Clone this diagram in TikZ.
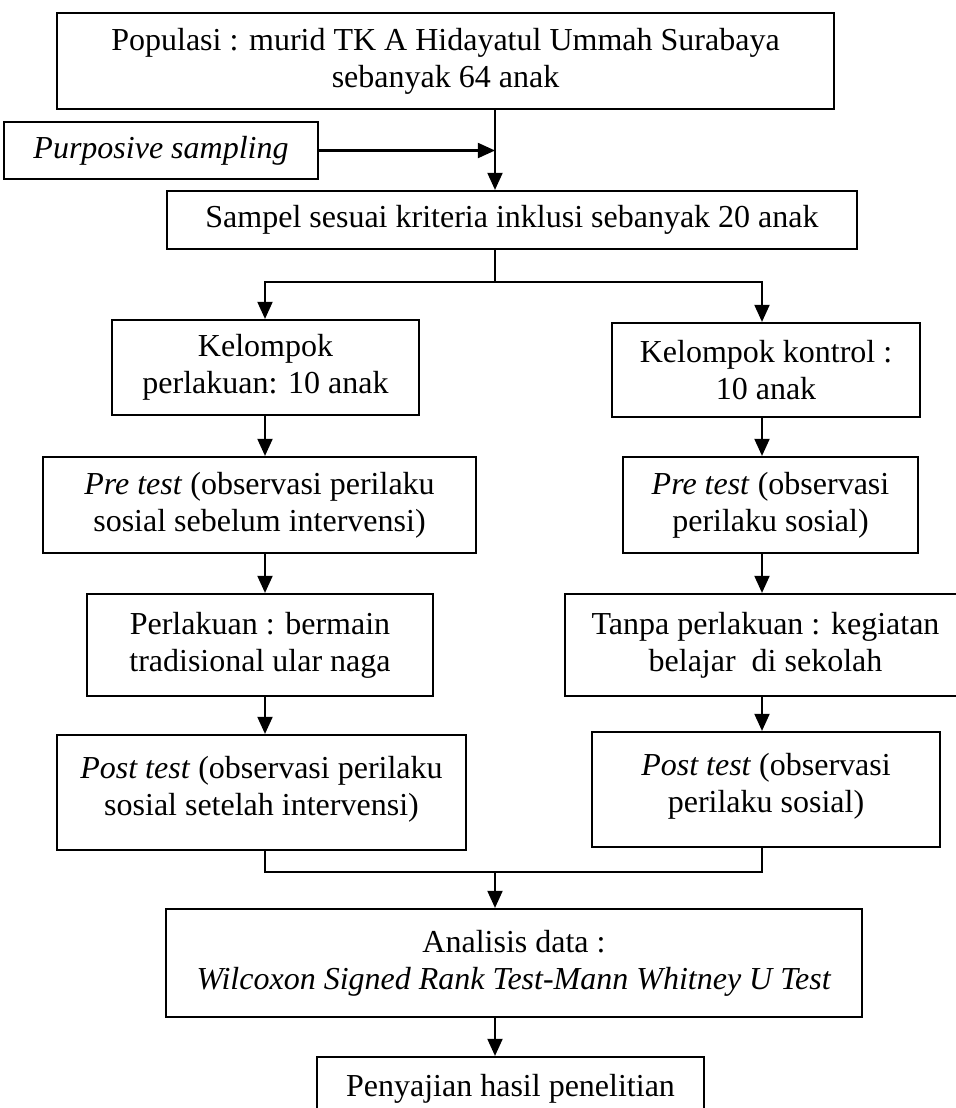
\documentclass[tikz,border=0pt]{standalone}
\usepackage{fontspec}
\setmainfont{Liberation Serif}
\usepackage{tikz}
\usetikzlibrary{arrows.meta,calc}

\begin{document}
\begin{tikzpicture}[x=0.375pt,y=-0.375pt,
  kotak/.style={draw,line width=0.8pt,inner sep=0pt,align=center,
    font=\fontsize{12pt}{13.8pt}\selectfont},
  panah/.style={line width=0.8pt,-{Triangle[length=6.4pt,width=5.6pt]}},
  garis/.style={line width=0.8pt}]
\useasboundingbox (0,0) rectangle (956,1108);
\coordinate (sumbu) at (495,0);
\coordinate (colL) at (265,0);
\coordinate (colR) at (762,0);
\coordinate (cabang) at (495,282);
\coordinate (gabung) at (495,872);

\node[kotak,minimum width=777*0.375pt,minimum height=96*0.375pt] (pop) at (445.5,61)
  {Populasi : murid TK A Hidayatul Ummah Surabaya\\ sebanyak 64 anak};
\node[kotak,minimum width=314*0.375pt,minimum height=57*0.375pt] (purp) at (161,150.5)
  {\textit{Purposive sampling}};
\node[kotak,minimum width=690*0.375pt,minimum height=58*0.375pt] (sampel) at (512,220)
  {Sampel sesuai kriteria inklusi sebanyak 20 anak};

\node[kotak,minimum width=307*0.375pt,minimum height=95*0.375pt] (kelP) at (265.5,367.5)
  {Kelompok\\ perlakuan: 10 anak};
\node[kotak,minimum width=308*0.375pt,minimum height=94*0.375pt] (kelK) at (766,370)
  {Kelompok kontrol :\\ 10 anak};
\node[kotak,minimum width=433*0.375pt,minimum height=96*0.375pt] (preP) at (259.5,505)
  {\textit{Pre test} (observasi perilaku\\ sosial sebelum intervensi)};
\node[kotak,minimum width=295*0.375pt,minimum height=96*0.375pt] (preK) at (770.5,505)
  {\textit{Pre test} (observasi\\ perilaku sosial)};
\node[kotak,minimum width=346*0.375pt,minimum height=102*0.375pt] (perlP) at (260,645)
  {Perlakuan : bermain\\ tradisional ular naga};
\node[kotak,minimum width=401*0.375pt,minimum height=102*0.375pt] (perlK) at (765.5,645)
  {Tanpa perlakuan : kegiatan\\ belajar\ \ di sekolah};
\node[kotak,minimum width=409*0.375pt,minimum height=115*0.375pt] (postP) at (261.5,792.5)
  {\textit{Post test} (observasi perilaku\\ sosial setelah intervensi)\rule[-5pt]{0pt}{0pt}};
\node[kotak,minimum width=348*0.375pt,minimum height=115*0.375pt] (postK) at (766,789.5)
  {\textit{Post test} (observasi\\ perilaku sosial)\rule[-5pt]{0pt}{0pt}};

\node[kotak,minimum width=696*0.375pt,minimum height=108*0.375pt] (analisis) at (514,963)
  {Analisis data :\\ \textit{Wilcoxon Signed Rank Test-Mann Whitney U Test}};
\node[kotak,minimum width=387*0.375pt,minimum height=64*0.375pt] (hasil) at (510.5,1089)
  {Penyajian hasil penelitian};

% alur utama
\draw[panah] (pop.south -| sumbu) -- (sampel.north -| sumbu);
\draw[panah] (purp.east) -- (purp.east -| sumbu);
\draw[garis] (sampel.south -| sumbu) -- (cabang);
\draw[panah] (cabang) -| (kelP.north -| colL);
\draw[panah] (cabang) -| (kelK.north -| colR);

% kelompok perlakuan
\draw[panah] (kelP.south -| colL) -- (preP.north -| colL);
\draw[panah] (preP.south -| colL) -- (perlP.north -| colL);
\draw[panah] (perlP.south -| colL) -- (postP.north -| colL);

% kelompok kontrol
\draw[panah] (kelK.south -| colR) -- (preK.north -| colR);
\draw[panah] (preK.south -| colR) -- (perlK.north -| colR);
\draw[panah] (perlK.south -| colR) -- (postK.north -| colR);

\draw[garis] (postP.south -| colL) |- (gabung) -| (postK.south -| colR);
\draw[panah] (gabung) -- (analisis.north -| sumbu);
\draw[panah] (analisis.south -| sumbu) -- (hasil.north -| sumbu);
\end{tikzpicture}
\end{document}
